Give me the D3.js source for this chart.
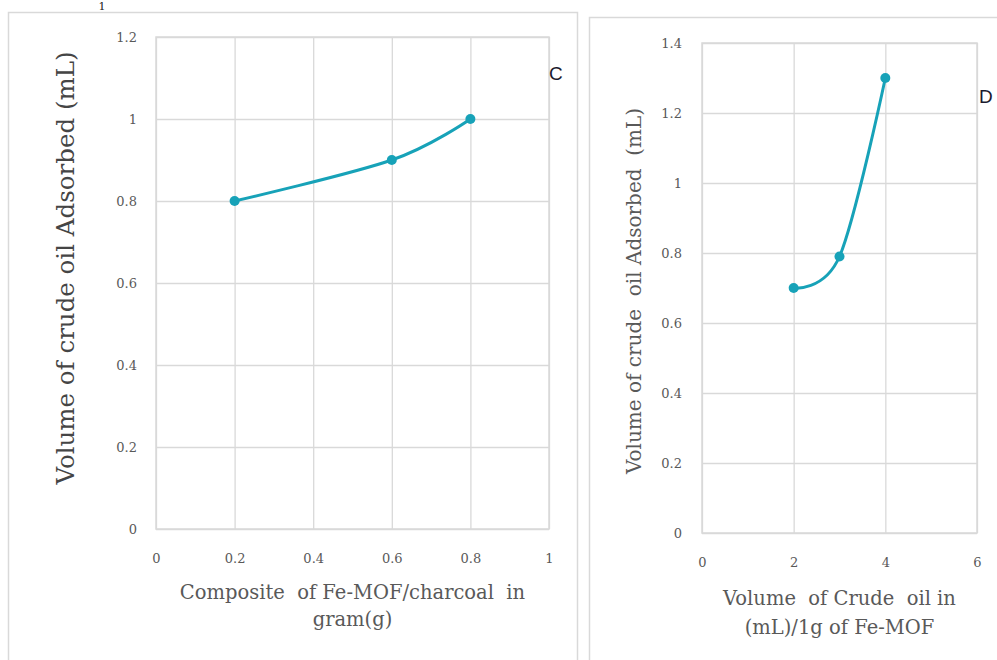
<!DOCTYPE html>
<html>
<head>
<meta charset="utf-8">
<script src="https://cdn.jsdelivr.net/npm/d3@7/dist/d3.min.js"></script>
<style>
  body { margin: 0; background: #fff; }
  svg { display: block; }
</style>
</head>
<body>
<svg width="997" height="660"></svg>
<script>
// panel C data
const compositeGrams = [0.2, 0.6, 0.8];
const adsorbedC = [0.8, 0.9, 1.0];
const xTicksC = [0, 0.2, 0.4, 0.6, 0.8, 1];
const yTicksC = [0, 0.2, 0.4, 0.6, 0.8, 1, 1.2];

// panel D data
const crudeOilVolume = [2, 3, 4];
const adsorbedD = [0.7, 0.79, 1.3];
const xTicksD = [0, 2, 4, 6];
const yTicksD = [0, 0.2, 0.4, 0.6, 0.8, 1, 1.2, 1.4];

const lineColor = '#17a2b8';
const gridColor = '#d9d9d9';
const textColor = '#595959';
const serif = '"DejaVu Serif", "Liberation Serif", serif';

const svg = d3.select('svg');

// outer frames of both panels
svg.append('rect')
    .attr('x', 8.5).attr('y', 12.5)
    .attr('width', 569).attr('height', 700)
    .attr('fill', 'none').attr('stroke', gridColor).attr('stroke-width', 1.5);
svg.append('rect')
    .attr('x', 589.5).attr('y', 17.5)
    .attr('width', 450).attr('height', 700)
    .attr('fill', 'none').attr('stroke', gridColor).attr('stroke-width', 1.5);

// bit of caption left over at the top
svg.append('text')
    .attr('x', 102).attr('y', 10)
    .attr('text-anchor', 'middle')
    .style('font-family', serif).style('font-size', '11px').attr('fill', '#222')
    .text('1');

function drawChart(o) {
    const g = svg.append('g')
        .attr('transform', `translate(${o.left}, ${o.top})`);

    const x = d3.scaleLinear().domain(o.xDomain).range([0, o.width]);
    const y = d3.scaleLinear().domain(o.yDomain).range([o.height, 0]);

    // gridlines
    g.append('g')
        .call(d3.axisLeft(y).tickValues(o.yTicks).tickSize(-o.width).tickFormat(''))
        .call(s => s.select('.domain').remove())
        .call(s => s.selectAll('line').attr('stroke', gridColor).attr('stroke-width', 1.3));
    g.append('g')
        .attr('transform', `translate(0, ${o.height})`)
        .call(d3.axisBottom(x).tickValues(o.xTicks).tickSize(-o.height).tickFormat(''))
        .call(s => s.select('.domain').remove())
        .call(s => s.selectAll('line').attr('stroke', gridColor).attr('stroke-width', 1.3));
    g.append('rect')
        .attr('width', o.width).attr('height', o.height)
        .attr('fill', 'none').attr('stroke', gridColor).attr('stroke-width', 1.5);

    // tick labels
    g.append('g')
        .call(d3.axisLeft(y).tickValues(o.yTicks).tickSize(0).tickPadding(o.yPad).tickFormat(d => String(d)))
        .call(s => s.select('.domain').remove())
        .call(s => s.selectAll('text')
            .style('font-family', serif).style('font-size', '13px').attr('fill', textColor));
    g.append('g')
        .attr('transform', `translate(0, ${o.height})`)
        .call(d3.axisBottom(x).tickValues(o.xTicks).tickSize(0).tickPadding(o.xPad).tickFormat(d => String(d)))
        .call(s => s.select('.domain').remove())
        .call(s => s.selectAll('text')
            .style('font-family', serif).style('font-size', '13px').attr('fill', textColor));

    // series
    const pts = o.xs.map((v, i) => [v, o.ys[i]]);
    g.append('path')
        .datum(pts)
        .attr('fill', 'none')
        .attr('stroke', lineColor)
        .attr('stroke-width', 3)
        .attr('d', d3.line().x(d => x(d[0])).y(d => y(d[1])).curve(d3.curveCatmullRom.alpha(0)));
    g.selectAll('circle')
        .data(pts)
        .enter()
        .append('circle')
        .attr('cx', d => x(d[0]))
        .attr('cy', d => y(d[1]))
        .attr('r', 5)
        .attr('fill', lineColor);

    // axis titles
    const xt = svg.append('text')
        .attr('text-anchor', 'middle')
        .style('font-family', serif).style('font-size', o.xTitleSize)
        .attr('fill', textColor);
    o.xTitle.forEach((line, i) => {
        xt.append('tspan')
            .attr('x', o.left + o.width / 2)
            .attr('y', o.xTitleY[i])
            .attr('dominant-baseline', 'central')
            .style('white-space', 'pre')
            .text(line);
    });
    svg.append('text')
        .attr('transform', `translate(${o.yTitleX}, ${o.yTitleY}) rotate(-90)`)
        .attr('text-anchor', 'middle')
        .attr('dominant-baseline', 'central')
        .style('font-family', serif).style('font-size', o.yTitleSize)
        .style('white-space', 'pre')
        .attr('fill', o.yTitleColor)
        .text(o.yTitle);

    // panel letter
    svg.append('text')
        .attr('x', o.letterX).attr('y', o.letterY)
        .attr('dominant-baseline', 'central')
        .style('font-family', '"Liberation Sans", Arial, sans-serif').style('font-size', '19px')
        .attr('fill', '#1a1a2e')
        .text(o.letter);
}

drawChart({
    left: 156, top: 37, width: 393, height: 492,
    xDomain: [0, 1], yDomain: [0, 1.2],
    xTicks: xTicksC, yTicks: yTicksC,
    xs: compositeGrams, ys: adsorbedC,
    yPad: 19, xPad: 25,
    xTitle: ['Composite  of Fe-MOF/charcoal  in', 'gram(g)'],
    xTitleY: [592, 619], xTitleSize: '19.5px',
    yTitle: 'Volume of crude oil Adsorbed (mL)',
    yTitleX: 65, yTitleY: 268, yTitleSize: '24.5px', yTitleColor: '#454545',
    letter: 'C', letterX: 549, letterY: 73
});

drawChart({
    left: 702, top: 43, width: 275, height: 490,
    xDomain: [0, 6], yDomain: [0, 1.4],
    xTicks: xTicksD, yTicks: yTicksD,
    xs: crudeOilVolume, ys: adsorbedD,
    yPad: 20, xPad: 25,
    xTitle: ['Volume  of Crude  oil in', '(mL)/1g of Fe-MOF'],
    xTitleY: [598, 627], xTitleSize: '19.5px',
    yTitle: 'Volume of crude  oil Adsorbed  (mL)',
    yTitleX: 634, yTitleY: 291, yTitleSize: '20px', yTitleColor: textColor,
    letter: 'D', letterX: 979, letterY: 96
});
</script>
</body>
</html>
